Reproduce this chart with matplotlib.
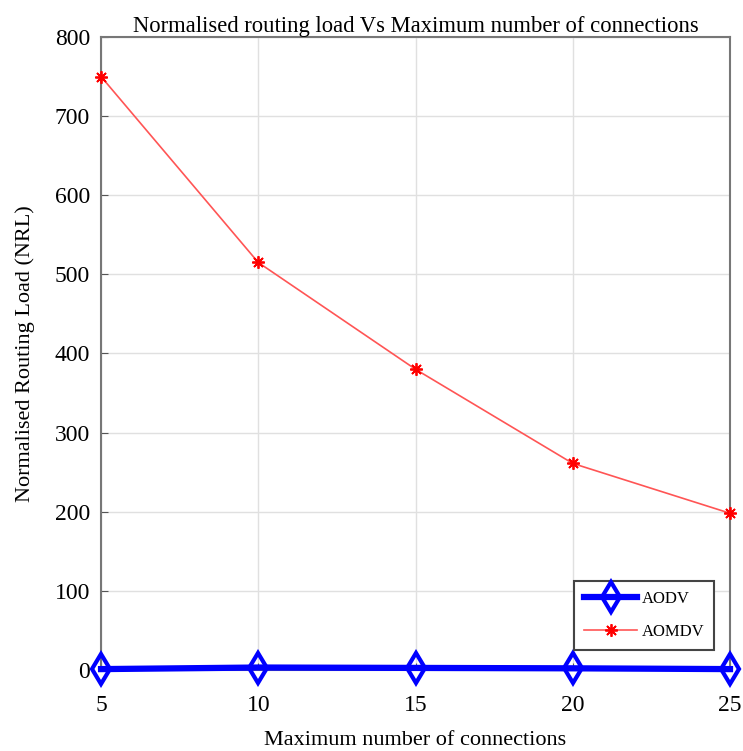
import matplotlib
matplotlib.use('Agg')
import matplotlib.pyplot as plt

connections = [5, 10, 15, 20, 25]
aodv_nrl = [1, 3, 2.5, 2, 1]
aomdv_nrl = [750, 515, 380, 261, 198]
y_ticks = [0, 100, 200, 300, 400, 500, 600, 700, 800]

plt.rcParams['font.family'] = ['Liberation Serif', 'DejaVu Serif']

fig = plt.figure(figsize=(7.43, 7.51), dpi=100)
ax = fig.add_axes([0.136, 0.108, 0.8465, 0.8427])

ax.plot(connections, aodv_nrl, color='blue', lw=4.5, marker='d', markersize=15,
        markerfacecolor='none', markeredgewidth=3, label='AODV', clip_on=False, zorder=5)
ax.plot(connections, aomdv_nrl, color='#ff5555', lw=1.2, marker=(8, 2, 0), markersize=9,
        markeredgecolor='red', markeredgewidth=1.3, label='AOMDV', clip_on=False, zorder=4)

ax.set_xlim(5, 25)
ax.set_ylim(0, 800)
ax.set_xticks(connections)
ax.set_yticks(y_ticks)
ax.tick_params(direction='in', length=5, color='#555555', labelsize=17)
ax.tick_params(axis='x', pad=18)
ax.tick_params(axis='y', pad=8)
ax.grid(True, color='#e0e0e0', lw=1)
for s in ax.spines.values():
    s.set_color('#777777')
    s.set_linewidth(1.5)

ax.set_title('Normalised routing load Vs Maximum number of connections', fontsize=16.3, pad=2)
ax.set_xlabel('Maximum number of connections', fontsize=16, labelpad=11)
ax.set_ylabel('Normalised Routing Load (NRL)', fontsize=16, labelpad=14)

leg = ax.legend(loc='lower right', bbox_to_anchor=(0.975, 0.032), borderaxespad=0,
                fontsize=12, fancybox=False, framealpha=1, edgecolor='#444444',
                handlelength=3.2, handletextpad=0.25, labelspacing=1.0, borderpad=0.6)
leg.get_frame().set_linewidth(1.5)

fig.savefig('out.png', dpi=100)
